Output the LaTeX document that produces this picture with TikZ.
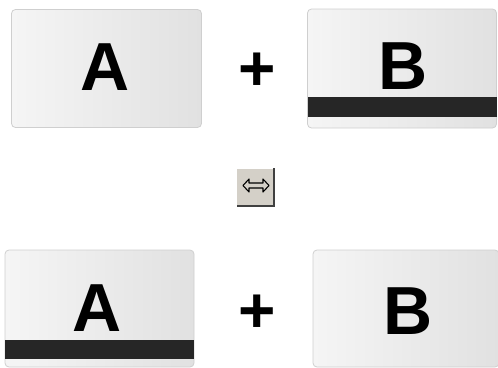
\documentclass[tikz,border=0pt]{standalone}
\usepackage{fontspec}
\setmainfont{Liberation Sans}
\definecolor{cardlight}{HTML}{F5F5F5}
\definecolor{carddark}{HTML}{E1E1E1}
\definecolor{cardedge}{HTML}{CFCFCF}
\definecolor{stripe}{HTML}{262626}
\definecolor{btnface}{HTML}{D4D0C8}
\definecolor{btnshade}{HTML}{404040}
\begin{document}
\begin{tikzpicture}[x=1pt,y=-1pt,
  card/.style={draw=cardedge,line width=0.8pt,rounded corners=4pt,left color=cardlight,right color=carddark,inner sep=0pt},
  cardletter/.style={font=\fontsize{68}{68}\selectfont\bfseries,inner sep=0pt},
  plussign/.style={font=\fontsize{64}{64}\selectfont\bfseries,inner sep=0pt},
  stripebar/.style={fill=stripe}]
  \useasboundingbox (0,0) rectangle (498,367);
  % top row: stripe on B
  \node[card,minimum width=190pt,minimum height=118pt] (cardAtop) at (106.5,68.5) {};
  \node[card,minimum width=189pt,minimum height=119pt] (cardBtop) at (402,68.5) {};
  \fill[stripebar] ([shift={(0.4,-11)}]cardBtop.south west) rectangle ([shift={(-0.4,-31)}]cardBtop.south east);
  \node[cardletter] (letterAtop) at (105,67.5) {A};
  \node[cardletter] (letterBtop) at (403,66.5) {B};
  \node[plussign] (plustop) at (257,72) {+};
  % swap button
  \node[fill=btnface,minimum size=38pt,inner sep=0pt] (swapbtn) at (256,187.5) {};
  \draw[white,line width=1pt] (swapbtn.south west) -- (swapbtn.north west) -- (swapbtn.north east);
  \draw[btnshade,line width=2pt] ([shift={(-1,0)}]swapbtn.north east) -- ([shift={(-1,-1)}]swapbtn.south east) -- ([shift={(0,-1)}]swapbtn.south west);
  \draw[black,line width=1.1pt,line join=round] ([shift={(-13,-2)}]swapbtn.center)
    -- ++(6,-6.5) -- ++(0,4) -- ++(14,0) -- ++(0,-4) -- ++(6,6.5)
    -- ++(-6,6.5) -- ++(0,-4) -- ++(-14,0) -- ++(0,4) -- cycle;
  % bottom row: stripe on A
  \node[card,minimum width=189pt,minimum height=117pt] (cardAbot) at (99.5,308.5) {};
  \node[card,minimum width=186pt,minimum height=117pt] (cardBbot) at (406,308.5) {};
  \fill[stripebar] ([shift={(0.4,-8)}]cardAbot.south west) rectangle ([shift={(-0.4,-27)}]cardAbot.south east);
  \node[cardletter] (letterAbot) at (97,308.5) {A};
  \node[cardletter] (letterBbot) at (408,311.5) {B};
  \node[plussign] (plusbot) at (257,314) {+};
\end{tikzpicture}
\end{document}
